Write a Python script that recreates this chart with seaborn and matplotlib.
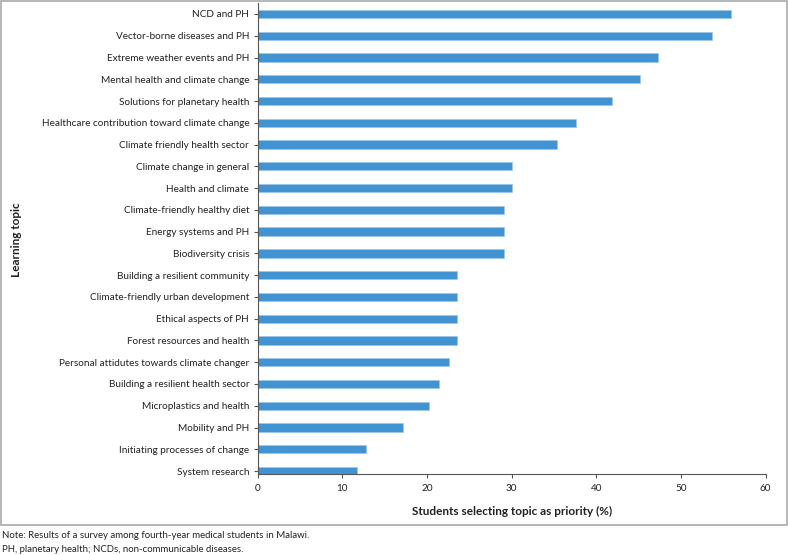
import pandas as pd
import matplotlib.pyplot as plt
import seaborn as sns
from matplotlib.patches import Rectangle

# Learning topics, top to bottom as shown in the chart
topics = [
    "NCD and PH",
    "Vector-borne diseases and PH",
    "Extreme weather events and PH",
    "Mental health and climate change",
    "Solutions for planetary health",
    "Healthcare contribution toward climate change",
    "Climate friendly health sector",
    "Climate change in general",
    "Health and climate",
    "Climate-friendly healthy diet",
    "Energy systems and PH",
    "Biodiversity crisis",
    "Building a resilient community",
    "Climate-friendly urban development",
    "Ethical aspects of PH",
    "Forest resources and health",
    "Personal attidutes towards climate changer",
    "Building a resilient health sector",
    "Microplastics and health",
    "Mobility and PH",
    "Initiating processes of change",
    "System research",
]

# Share of students selecting the topic as priority (%)
percent = [55.9, 53.7, 47.3, 45.2, 41.9, 37.6, 35.4, 30.0, 30.0, 29.1, 29.1, 29.1,
           23.6, 23.6, 23.6, 23.6, 22.6, 21.4, 20.3, 17.2, 12.8, 11.8]

x_ticks = [0, 10, 20, 30, 40, 50, 60]

df = pd.DataFrame({"Topic": topics, "Percent": percent})

sns.set_style("white")
plt.rcParams["font.family"] = ["Lato", "DejaVu Sans"]

fig = plt.figure(figsize=(7.88, 5.55), dpi=100)
ax = fig.add_axes([257.5 / 788, 1 - 474.3 / 555, 508.2 / 788, (474.3 - 3.1) / 555])

sns.barplot(data=df, x="Percent", y="Topic", color="#4193D1", width=0.38,
            saturation=1, edgecolor="#9CC7EA", linewidth=0.4, ax=ax)

ax.set_xlim(0, 60)
ax.set_ylim(21.15, -0.5)
ax.set_xticks(x_ticks)
ax.set_xticklabels([str(t) for t in x_ticks])

ax.set_xlabel("Students selecting topic as priority (%)", fontsize=8.5,
              fontweight="bold", color="#222222", labelpad=9)
ax.set_ylabel("")
fig.text(17 / 788, 1 - 240 / 555, "Learning topic", rotation=90, fontsize=8.5,
         fontweight="bold", color="#222222", ha="center", va="center")

# Only left and bottom axis lines, thin and grey
for side in ["top", "right"]:
    ax.spines[side].set_visible(False)
for side in ["left", "bottom"]:
    ax.spines[side].set_color("#555555")
    ax.spines[side].set_linewidth(0.8)

ax.tick_params(axis="y", which="both", left=True, length=3, width=0.8,
               color="#555555", labelsize=7.2, labelcolor="#222222", pad=3)
ax.tick_params(axis="x", which="both", bottom=True, length=3, width=0.8,
               color="#555555", labelsize=7.2, labelcolor="#222222", pad=4)
ax.grid(False)

# Grey frame around the chart area
fig.patches.append(Rectangle((1 / 788, 1 - 525 / 555), 786 / 788, 524 / 555,
                             transform=fig.transFigure, fill=False,
                             edgecolor="#AAAAAA", linewidth=1.2))

# Footnotes
fig.text(2 / 788, 1 - 536 / 555,
         "Note: Results of a survey among fourth-year medical students in Malawi.",
         fontsize=6.9, color="#222222", va="center", ha="left")
fig.text(2 / 788, 1 - 549 / 555,
         "PH, planetary health; NCDs, non-communicable diseases.",
         fontsize=6.9, color="#222222", va="center", ha="left")

fig.savefig("out.png", dpi=100)
